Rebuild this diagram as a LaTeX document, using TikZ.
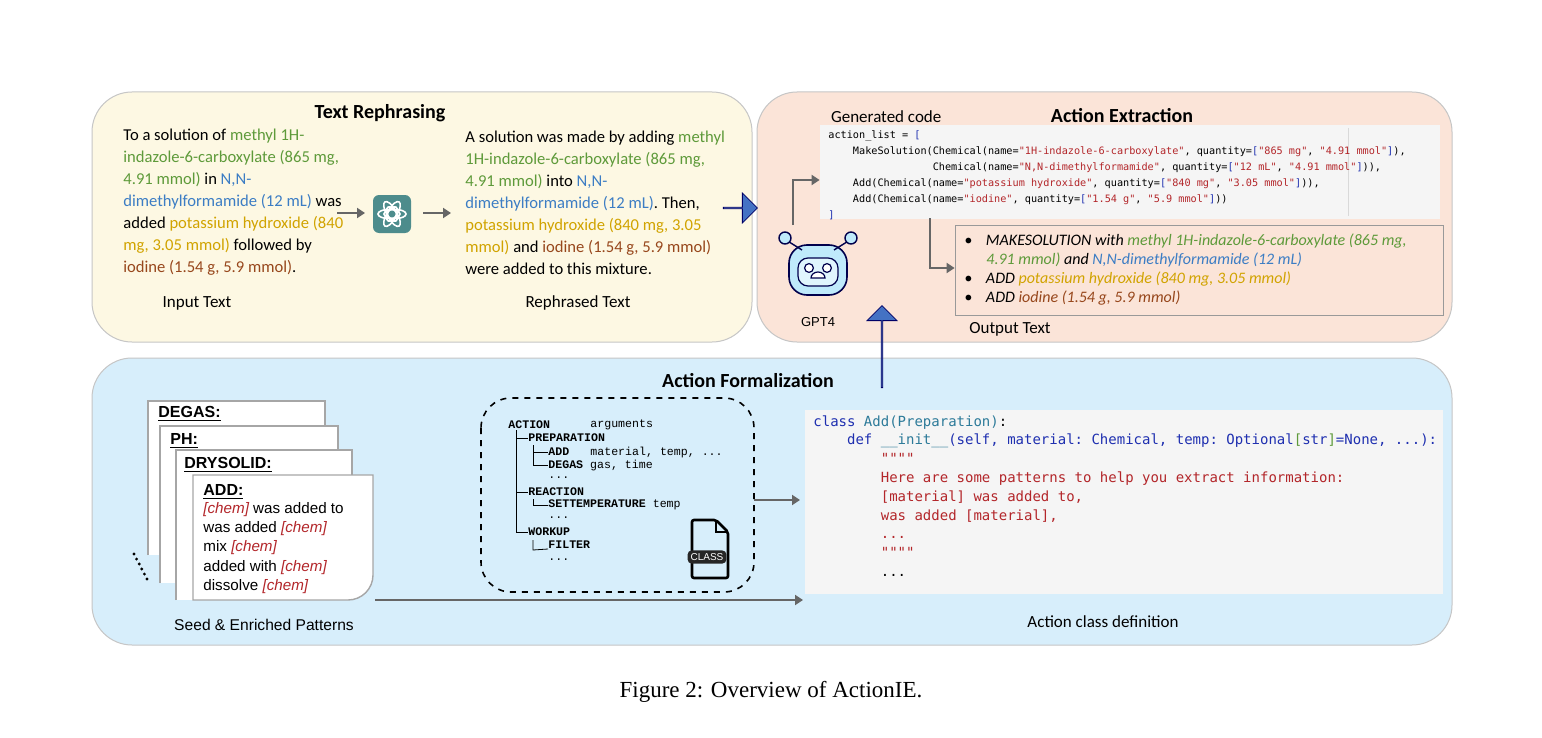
\documentclass[tikz,border=0pt]{standalone}
\usepackage{fontspec}
\setmainfont{Carlito}
\setmonofont{DejaVu Sans Mono}
\newfontfamily\arialf{Liberation Sans}
\newfontfamily\courf{Liberation Mono}
\newfontfamily\capf{Liberation Serif}
\usetikzlibrary{arrows.meta,shapes.arrows,positioning}
\definecolor{yel}{HTML}{FDF8E3}
\definecolor{ora}{HTML}{FBE4D8}
\definecolor{blu}{HTML}{D7EEFB}
\definecolor{cgreen}{HTML}{5E9A3A}
\definecolor{cblue}{HTML}{3C7DC4}
\definecolor{cgold}{HTML}{D1A300}
\definecolor{cbrown}{HTML}{97471C}
\definecolor{cred}{HTML}{B3262A}
\definecolor{kblue}{HTML}{1E2FB0}
\definecolor{kteal}{HTML}{2C7A99}
\definecolor{codebg}{HTML}{F5F5F5}
\definecolor{arrblue}{HTML}{4472C4}
\tikzset{
  panel/.style  = {draw=gray!45, rounded corners=20pt, line width=0.5pt},
  title/.style  = {font=\fontsize{10}{12}\selectfont\bfseries},
  para/.style   = {anchor=north west, inner sep=0pt, align=left,
                   font=\fontsize{8.3}{11}\selectfont},
  label/.style  = {font=\fontsize{8.5}{10}\selectfont},
  gray arrow/.style = {draw=gray!80!black, line width=1.4pt, -{Triangle[length=4pt,width=5pt]}},
  big arrow/.style  = {single arrow, draw=blue!40!black, fill=arrblue, inner sep=0pt,
                   single arrow head extend=4pt, minimum width=15pt},
  codebox/.style = {fill=codebg, draw=none},
  card/.style   = {draw=gray!70, fill=white, line width=0.7pt},
  cardtitle/.style = {anchor=west, inner sep=0pt, font=\arialf\fontsize{8}{9}\selectfont\bfseries},
  tree/.style   = {anchor=west, inner sep=0pt, font=\courf\fontsize{5.8}{7}\selectfont},
}
\newcommand{\chem}{\textcolor{cred}{\itshape[chem]}}
\begin{document}
\begin{tikzpicture}[x=0.5pt,y=-0.5pt]
\useasboundingbox[fill=white] (0,0) rectangle (1542,738);

% panels
\draw[panel, fill=yel] (92,92) rectangle (752,342);
\draw[panel, fill=ora] (757,92) rectangle (1452,342);
\draw[panel, fill=blu] (92,358) rectangle (1452,645);

\node[title] (t1) at (380,113) {Text Rephrasing};
\node[title] (t2) at (1122,116) {Action Extraction};
\node[title] (t3) at (748,381) {Action Formalization};

% text rephrasing
\node[para] (inp) at (123,129) {To a solution of \textcolor{cgreen}{methyl 1H-}\\
\textcolor{cgreen}{indazole-6-carboxylate (865 mg,}\\
\textcolor{cgreen}{4.91 mmol)} in \textcolor{cblue}{N,N-}\\
\textcolor{cblue}{dimethylformamide (12 mL)} was\\
added \textcolor{cgold}{potassium hydroxide (840}\\
\textcolor{cgold}{mg, 3.05 mmol)} followed by\\
\textcolor{cbrown}{iodine (1.54 g, 5.9 mmol)}.};
\node[para] (reph) at (465,131) {A solution was made by adding \textcolor{cgreen}{methyl}\\
\textcolor{cgreen}{1H-indazole-6-carboxylate (865 mg,}\\
\textcolor{cgreen}{4.91 mmol)} into \textcolor{cblue}{N,N-}\\
\textcolor{cblue}{dimethylformamide (12 mL)}. Then,\\
\textcolor{cgold}{potassium hydroxide (840 mg, 3.05}\\
\textcolor{cgold}{mmol)} and \textcolor{cbrown}{iodine (1.54 g, 5.9 mmol)}\\
were added to this mixture.};
\node[label] (inl) at (197,303) {Input Text};
\node[label] (rel) at (578,303) {Rephrased Text};

% chatgpt icon
\node[fill=teal!55!gray!90, rounded corners=3pt, minimum size=19pt, inner sep=0pt] (gpt) at (392,214) {};
\foreach \a in {0,60,...,300}
  \draw[white, line width=0.8pt, rotate around={\a:(gpt.center)}] ([xshift=-1.5pt]gpt.center) ellipse (5.5pt and 2.3pt);
\coordinate (a1) at (337,213);
\coordinate (a2) at (423,213);
\draw[gray arrow] (a1) -- ++(28,0);
\draw[gray arrow] (a2) -- ++(28,0);

\node[big arrow, minimum height=17pt] (ba1) at (740,208) {};

% action extraction
\node[label, anchor=west] (gen) at (824,117) {Generated code};
\node[codebox, minimum width=310pt, minimum height=47pt, inner sep=0pt] (code) at (1130,172) {};
\draw[gray!30] (1348,128) -- (1348,216);
\node[para, font=\ttfamily\fontsize{5.1}{8}\selectfont] (codetxt) at (828,130) {action\_list = \textcolor{kblue}{[}\\
\ \ \ \ MakeSolution(Chemical(name=\textcolor{cred}{"1H-indazole-6-carboxylate"}, quantity=\textcolor{kblue}{[}\textcolor{cred}{"865 mg"}, \textcolor{cred}{"4.91 mmol"}\textcolor{kblue}{]}),\\
\ \ \ \ \ \ \ \ \ \ \ \ \ \ \ \ \ Chemical(name=\textcolor{cred}{"N,N-dimethylformamide"}, quantity=\textcolor{kblue}{[}\textcolor{cred}{"12 mL"}, \textcolor{cred}{"4.91 mmol"}\textcolor{kblue}{]})),\\
\ \ \ \ Add(Chemical(name=\textcolor{cred}{"potassium hydroxide"}, quantity=\textcolor{kblue}{[}\textcolor{cred}{"840 mg"}, \textcolor{cred}{"3.05 mmol"}\textcolor{kblue}{]})),\\
\ \ \ \ Add(Chemical(name=\textcolor{cred}{"iodine"}, quantity=\textcolor{kblue}{[}\textcolor{cred}{"1.54 g"}, \textcolor{cred}{"5.9 mmol"}\textcolor{kblue}{]}))\\
\textcolor{kblue}{]}};

% robot
\node[draw=blue!30!black, fill=cyan!25, rounded corners=9pt, minimum width=29pt, minimum height=25pt, line width=0.8pt] (robot) at (818,270) {};
\node[draw=blue!30!black, fill=cyan!12, rounded corners=5pt, minimum width=20pt, minimum height=14pt, line width=0.6pt] (face) at (818,272) {};
\foreach \s in {-1,1}{
  \draw[blue!30!black, line width=0.7pt] (818+\s*16,250) -- (818+\s*32,240);
  \draw[blue!30!black, fill=cyan!25, line width=0.7pt] (818+\s*33,238) circle (3pt);
  \draw[blue!30!black, fill=white, line width=0.6pt] (818+\s*9,268) circle (2.2pt);
}
\draw[blue!30!black, fill=white, line width=0.6pt] (811,278) arc (180:360:7 and 6) -- cycle;
\node[font=\arialf\fontsize{6.5}{8}\selectfont] (gpt4) at (818,322) {GPT4};
\draw[gray arrow] (793,225) |- (code.west |- 0,180);
\coordinate (cdown) at (930,218);

\node[draw=gray!80, minimum width=244pt, minimum height=45pt, inner sep=0pt] (out) at (1199,270) {};
\draw[gray arrow] (cdown) |- (out.west |- 0,268);
\node[para, font=\fontsize{8}{9.6}\selectfont\itshape] (outtxt) at (964,233) {%
\textbullet\hspace{5pt} MAKESOLUTION with \textcolor{cgreen}{methyl 1H-indazole-6-carboxylate (865 mg,}\\
\hspace{11pt}\textcolor{cgreen}{4.91 mmol)} and \textcolor{cblue}{N,N-dimethylformamide (12 mL)}\\
\textbullet\hspace{5pt} ADD \textcolor{cgold}{potassium hydroxide (840 mg, 3.05 mmol)}\\
\textbullet\hspace{5pt} ADD \textcolor{cbrown}{iodine (1.54 g, 5.9 mmol)}};
\node[label] (outl) at (1010,329) {Output Text};

\node[big arrow, minimum height=41pt, rotate=90] (ba2) at (882,347) {};

% seed patterns
\draw[card] (148,555) -- (148,401) -- (325,401) -- (325,555);
\draw[card] (160,583) -- (160,426) -- (338,426) -- (338,583);
\draw[card] (176,600) -- (176,450) -- (352,450) -- (352,600);
\draw[card] (193,600) -- (193,475) -- (373,475) -- (373,575) to[out=-90,in=0] (348,600) -- cycle;
\node[cardtitle] (degas) at (158,414) {\underline{DEGAS:}};
\node[cardtitle] (ph) at (170,441) {\underline{PH:}};
\node[cardtitle] (dry) at (184,465) {\underline{DRYSOLID:}};
\node[cardtitle] (add) at (203,492) {\underline{ADD:}};
\node[para, font=\arialf\fontsize{7.6}{9.6}\selectfont] (pat) at (203,502) {\chem\ was added to\\
was added \chem\\ mix \chem\\ added with \chem\\ dissolve \chem};
\foreach \i in {0,...,5}
  \fill (134+\i*2.6,554+\i*5) circle (0.8pt);
\node[label, font=\arialf\fontsize{7.8}{9}\selectfont] (seedl) at (264,625) {Seed \& Enriched Patterns};
\draw[gray arrow] (375,600) -- (803,600);

% class hierarchy
\draw[dashed, line width=0.8pt, rounded corners=15pt] (481,398) rectangle (754,592);
\node[tree] (tr1) at (508,425) {\textbf{ACTION}};
\node[tree] (tr1a) at (590,425) {arguments};
\node[tree] (tr2) at (528,438) {\textbf{PREPARATION}};
\node[tree] (tr3) at (548,452) {\textbf{ADD}};
\node[tree] (tr3a) at (590,452) {material, temp, ...};
\node[tree] (tr4) at (548,465) {\textbf{DEGAS} gas, time};
\node[tree] (tr5) at (548,478) {...};
\node[tree] (tr6) at (528,492) {\textbf{REACTION}};
\node[tree] (tr7) at (548,505) {\textbf{SETTEMPERATURE} temp};
\node[tree] (tr8) at (548,518) {...};
\node[tree] (tr9) at (528,532) {\textbf{WORKUP}};
\node[tree] (tr10) at (548,545) {\textbf{FILTER}};
\node[tree] (tr11) at (548,560) {...};
\draw[line width=0.4pt] (516,430) -- (516,532) -- (tr9.west);
\draw[line width=0.4pt] (516,438) -- (tr2.west) (516,492) -- (tr6.west);
\draw[line width=0.4pt] (533,445) -- (533,465) -- (tr4.west) (533,452) -- (tr3.west);
\draw[line width=0.4pt] (533,499) -- (533,505) -- (tr7.west);
\draw[line width=0.4pt] (533,540) -- (533,550) -- ([yshift=-2pt]tr10.west);
% class file icon
\draw[line width=1.3pt, rounded corners=1pt] (692,520) -- (692,578) -- (728,578) -- (728,532) -- (716,520) -- cycle;
\draw[line width=1.3pt] (716,520) -- (716,532) -- (728,532);
\node[fill=black!85, text=white, rounded corners=2pt, inner sep=1.5pt, font=\arialf\fontsize{5}{6}\selectfont] (cls) at (707,557) {CLASS};
\coordinate (tr out) at (754,500);
\draw[gray arrow] (tr out) -- (800,500);

% class code
\node[codebox, minimum width=319pt, minimum height=92pt, inner sep=0pt] (ccode) at (1124,502) {};
\node[para, font=\ttfamily\fontsize{7}{9.4}\selectfont] (cctxt) at (813,415) {\textcolor{kblue}{class} \textcolor{kteal}{Add(Preparation)}:\\
\ \ \ \ \textcolor{kblue}{def} \textcolor{kteal}{\_\_init\_\_}\textcolor{kblue}{(self, material: Chemical, temp: Optional}\textcolor{cgreen}{[}\textcolor{kblue}{str}\textcolor{cgreen}{]}\textcolor{kblue}{=None, ...):}\\
\textcolor{cred}{\ \ \ \ \ \ \ \ """"}\\
\textcolor{cred}{\ \ \ \ \ \ \ \ Here are some patterns to help you extract information:}\\
\textcolor{cred}{\ \ \ \ \ \ \ \ [material] was added to,}\\
\textcolor{cred}{\ \ \ \ \ \ \ \ was added [material],}\\
\textcolor{cred}{\ \ \ \ \ \ \ \ ...}\\
\textcolor{cred}{\ \ \ \ \ \ \ \ """"}\\
\ \ \ \ \ \ \ \ ...};
\node[label] (ccl) at (1103,622) {Action class definition};

\node[font=\capf\fontsize{11.5}{13}\selectfont] (cap) at (771,692) {Figure 2: Overview of ActionIE.};
\end{tikzpicture}
\end{document}
